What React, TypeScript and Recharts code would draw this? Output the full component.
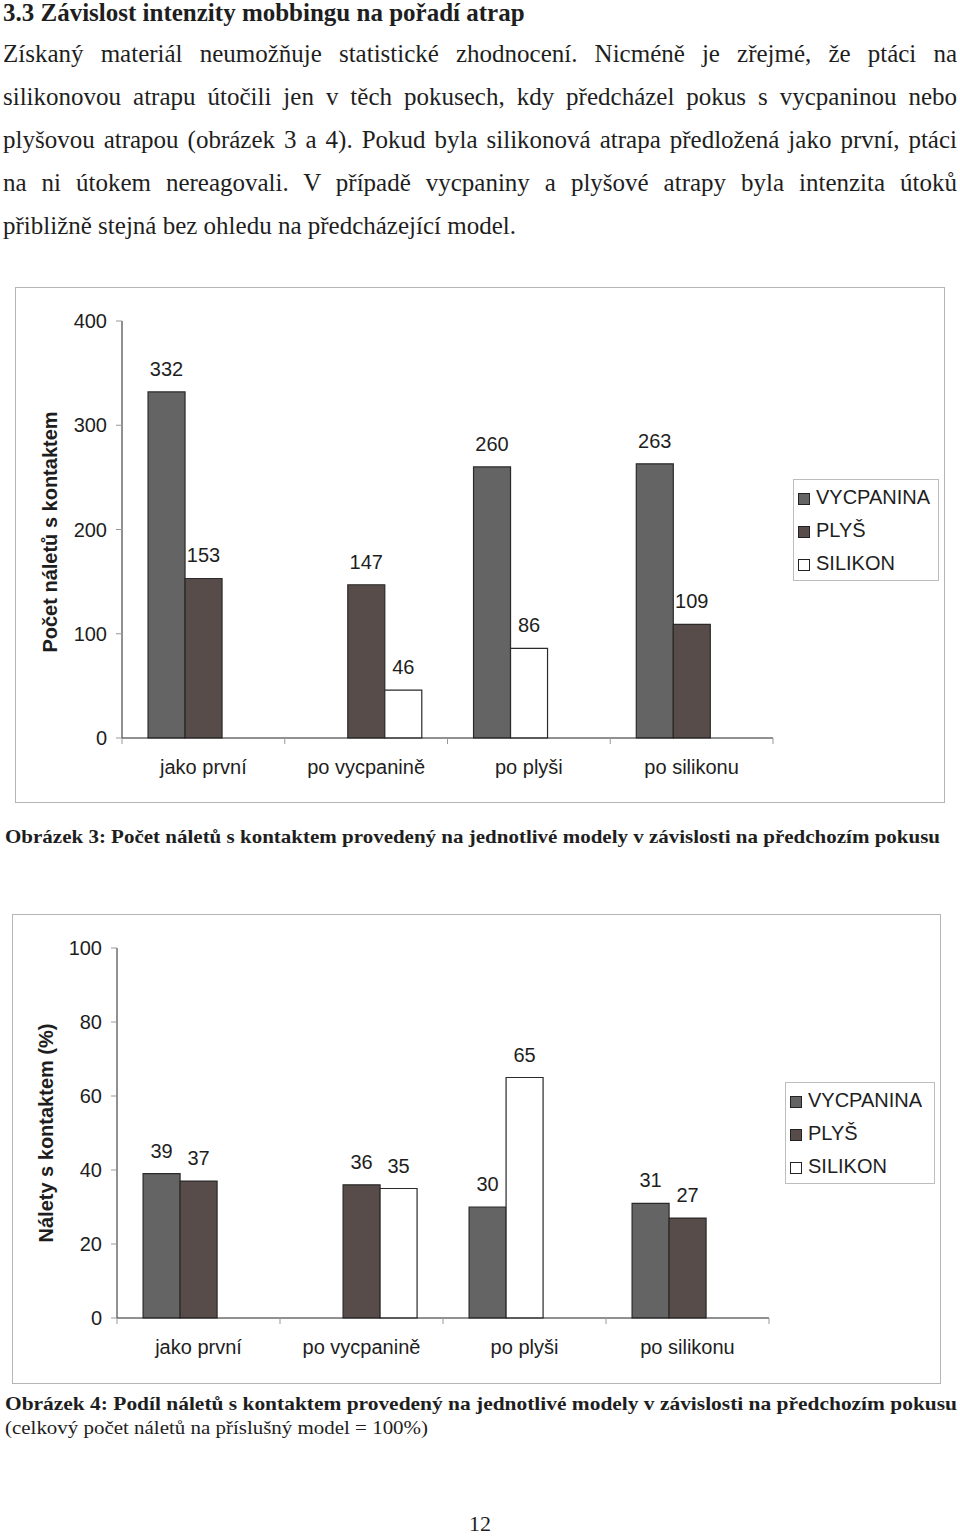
import React from 'react';
import { BarChart, Bar, XAxis, YAxis, LabelList, Legend, Cell } from 'recharts';

// ---- data ----
const categories = ['jako první', 'po vycpanině', 'po plyši', 'po silikonu'];
const seriesNames = ['VYCPANINA', 'PLYŠ', 'SILIKON'];

// Obrázek 3: počet náletů s kontaktem
const countVycpanina = [332, null, 260, 263];
const countPlys = [153, 147, null, 109];
const countSilikon = [0, 46, 86, null];
const countTicks = [0, 100, 200, 300, 400];

// Obrázek 4: podíl náletů s kontaktem (%)
const pctVycpanina = [39, null, 30, 31];
const pctPlys = [37, 36, null, 27];
const pctSilikon = [0, 35, 65, null];
const pctTicks = [0, 20, 40, 60, 80, 100];

const bodyLines = [
  'Získaný materiál neumožňuje statistické zhodnocení. Nicméně je zřejmé, že ptáci na',
  'silikonovou atrapu útočili jen v těch pokusech, kdy předcházel pokus s vycpaninou nebo',
  'plyšovou atrapou (obrázek 3 a 4). Pokud byla silikonová atrapa předložená jako první, ptáci',
  'na ni útokem nereagovali. V případě vycpaniny a plyšové atrapy byla intenzita útoků',
  'přibližně stejná bez ohledu na předcházející model.',
];

const COLORS = ['#646464', '#574c49', '#ffffff'];
const SANS = '"Liberation Sans", Arial, sans-serif';
const SERIF = '"Liberation Serif", "Times New Roman", serif';
const INK = '#1e1e1e';

// In the original, where PLYŠ is missing the SILIKON bar occupies the middle slot.
function buildRows(v: (number | null)[], p: (number | null)[], s: (number | null)[]) {
  return categories.map((name, i) => ({
    name,
    a: v[i],
    b: p[i] ?? s[i],
    bIsSilikon: p[i] == null && s[i] != null,
    c: p[i] == null ? null : s[i],
  }));
}

const CatTick = (props: any) => {
  const { x, y, payload, index, visibleTicksCount, width } = props;
  const half = payload?.offset || (width && visibleTicksCount ? width / visibleTicksCount / 2 : 0);
  const last = index === visibleTicksCount - 1;
  return (
    <g>
      <line x1={x - half} y1={y} x2={x - half} y2={y + 6} stroke="#999" />
      {last && <line x1={x + half} y1={y} x2={x + half} y2={y + 6} stroke="#999" />}
      <text x={x} y={y + 36} textAnchor="middle" fill={INK} fontSize={20} fontFamily={SANS}>
        {payload.value}
      </text>
    </g>
  );
};

const LegendBox = (props: any) => {
  const payload = [...(props.payload || [])].sort(
    (p: any, q: any) => seriesNames.indexOf(p.value) - seriesNames.indexOf(q.value)
  );
  return (
    <div
      style={{
        border: '1px solid #bdbdbd',
        boxSizing: 'border-box',
        height: 102,
        paddingTop: 1,
        fontFamily: SANS,
        fontSize: 20,
        color: INK,
      }}
    >
      {payload.map((p: any) => (
        <div key={p.value} style={{ display: 'flex', alignItems: 'center', height: 33 }}>
          <span
            style={{
              display: 'inline-block',
              width: 10,
              height: 10,
              marginLeft: 4,
              marginRight: 6,
              marginTop: 3,
              border: '1px solid #222',
              background: p.color,
            }}
          />
          <span>{p.value}</span>
        </div>
      ))}
    </div>
  );
};

function Figure(props: {
  rows: any[];
  ticks: number[];
  width: number;
  height: number;
  margin: { top: number; right: number; bottom: number; left: number };
  legendLeft: number;
  legendTop: number;
  legendWidth: number;
}) {
  const { rows, ticks, width, height, margin, legendLeft, legendTop, legendWidth } = props;
  const max = ticks[ticks.length - 1];
  const labelStyle = { fill: INK, fontSize: 20, fontFamily: SANS };
  return (
    <BarChart width={width} height={height} data={rows} margin={margin} barCategoryGap="16%" barGap={0}>
      <XAxis
        dataKey="name"
        height={40}
        axisLine={{ stroke: '#222' }}
        tickLine={false}
        tickSize={0}
        tickMargin={0}
        tick={<CatTick />}
        interval={0}
      />
      <XAxis xAxisId="top" dataKey="name" orientation="top" height={0} tick={false} tickLine={false} axisLine={{ stroke: '#222' }} />
      <YAxis
        domain={[0, max]}
        ticks={ticks}
        width={60}
        axisLine={{ stroke: '#222' }}
        tickLine={{ stroke: '#999' }}
        tickSize={6}
        tickMargin={9}
        tick={{ fill: INK, fontSize: 20, fontFamily: SANS }}
        interval={0}
      />
      <YAxis yAxisId="right" orientation="right" width={0} domain={[0, 1]} tick={false} tickLine={false} axisLine={{ stroke: '#222' }} />
      <Legend
        layout="vertical"
        align="center"
        verticalAlign="middle"
        content={<LegendBox />}
        wrapperStyle={{ left: legendLeft, top: legendTop, width: legendWidth, height: 102 }}
      />
      <Bar dataKey="a" name={seriesNames[0]} fill={COLORS[0]} stroke="#2a2a2a" strokeWidth={1.2} isAnimationActive={false}>
        <LabelList dataKey="a" position="top" offset={16} style={labelStyle} />
      </Bar>
      <Bar dataKey="b" name={seriesNames[1]} fill={COLORS[1]} stroke="#2a2a2a" strokeWidth={1.2} isAnimationActive={false}>
        {rows.map((r, i) => (
          <Cell key={i} fill={r.bIsSilikon ? COLORS[2] : COLORS[1]} />
        ))}
        <LabelList dataKey="b" position="top" offset={16} style={labelStyle} />
      </Bar>
      <Bar dataKey="c" name={seriesNames[2]} fill={COLORS[2]} stroke="#2a2a2a" strokeWidth={1.2} isAnimationActive={false}>
        <LabelList dataKey="c" position="top" offset={16} style={labelStyle} />
      </Bar>
    </BarChart>
  );
}

const YTitle = ({ text, cx, cy }: { text: string; cx: number; cy: number }) => (
  <div
    style={{
      position: 'absolute',
      left: cx,
      top: cy,
      transform: 'translate(-50%, -50%) rotate(-90deg)',
      whiteSpace: 'nowrap',
      fontFamily: SANS,
      fontWeight: 'bold',
      fontSize: 20,
      color: INK,
    }}
  >
    {text}
  </div>
);

export default function App() {
  const rows1 = buildRows(countVycpanina, countPlys, countSilikon);
  const rows2 = buildRows(pctVycpanina, pctPlys, pctSilikon);
  return (
    <div style={{ position: 'absolute', left: 0, top: 0, width: 960, height: 1537, background: '#fff', overflow: 'hidden' }}>
      {/* heading & body text */}
      <div
        style={{
          position: 'absolute',
          left: 3,
          top: 0,
          lineHeight: '26px',
          fontFamily: SERIF,
          fontWeight: 'bold',
          fontSize: 25,
          color: INK,
          whiteSpace: 'nowrap',
        }}
      >
        3.3 Závislost intenzity mobbingu na pořadí atrap
      </div>
      {bodyLines.map((line, i) => (
        <div
          key={i}
          style={{
            position: 'absolute',
            left: 3,
            top: 32 + i * 43,
            width: 954,
            height: 43,
            lineHeight: '43px',
            fontFamily: SERIF,
            fontSize: 25,
            color: INK,
            whiteSpace: i === bodyLines.length - 1 ? 'nowrap' : 'normal',
            textAlign: i === bodyLines.length - 1 ? 'left' : 'justify',
            textAlignLast: i === bodyLines.length - 1 ? 'left' : 'justify',
            overflow: 'hidden',
          } as any}
        >
          {line}
        </div>
      ))}

      {/* Figure 3 */}
      <div
        style={{
          position: 'absolute',
          left: 15,
          top: 287,
          width: 928,
          height: 514,
          border: '1px solid #b5b5b5',
        }}
      >
        <Figure
          rows={rows1}
          ticks={countTicks}
          width={928}
          height={514}
          margin={{ top: 33, right: 171, bottom: 24, left: 46 }}
          legendLeft={777}
          legendTop={191}
          legendWidth={146}
        />
      </div>
      <YTitle text="Počet náletů s kontaktem" cx={50} cy={532} />

      {/* Figure 4 */}
      <div
        style={{
          position: 'absolute',
          left: 12,
          top: 914,
          width: 927,
          height: 468,
          border: '1px solid #b5b5b5',
        }}
      >
        <Figure
          rows={rows2}
          ticks={pctTicks}
          width={927}
          height={468}
          margin={{ top: 33, right: 171, bottom: 25, left: 44 }}
          legendLeft={772}
          legendTop={167}
          legendWidth={150}
        />
      </div>
      <YTitle text="Nálety s kontaktem (%)" cx={46} cy={1133} />

      {/* captions and page number */}
      <svg width={960} height={1537} style={{ position: 'absolute', left: 0, top: 0, pointerEvents: 'none' }}>
        <text x={5} y={843} fontFamily={SERIF} fontWeight="bold" fontSize={19} fill={INK} textLength={935} lengthAdjust="spacingAndGlyphs">
          Obrázek 3: Počet náletů s kontaktem provedený na jednotlivé modely v závislosti na předchozím pokusu
        </text>
        <text x={5} y={1410} fontFamily={SERIF} fontWeight="bold" fontSize={19} fill={INK} textLength={952} lengthAdjust="spacingAndGlyphs">
          Obrázek 4: Podíl náletů s kontaktem provedený na jednotlivé modely v závislosti na předchozím pokusu
        </text>
        <text x={5} y={1434} fontFamily={SERIF} fontSize={19} fill={INK} textLength={423} lengthAdjust="spacingAndGlyphs">
          (celkový počet náletů na příslušný model = 100%)
        </text>
        <text x={480} y={1531} textAnchor="middle" fontFamily={SERIF} fontSize={22} fill={INK}>
          12
        </text>
      </svg>
    </div>
  );
}
